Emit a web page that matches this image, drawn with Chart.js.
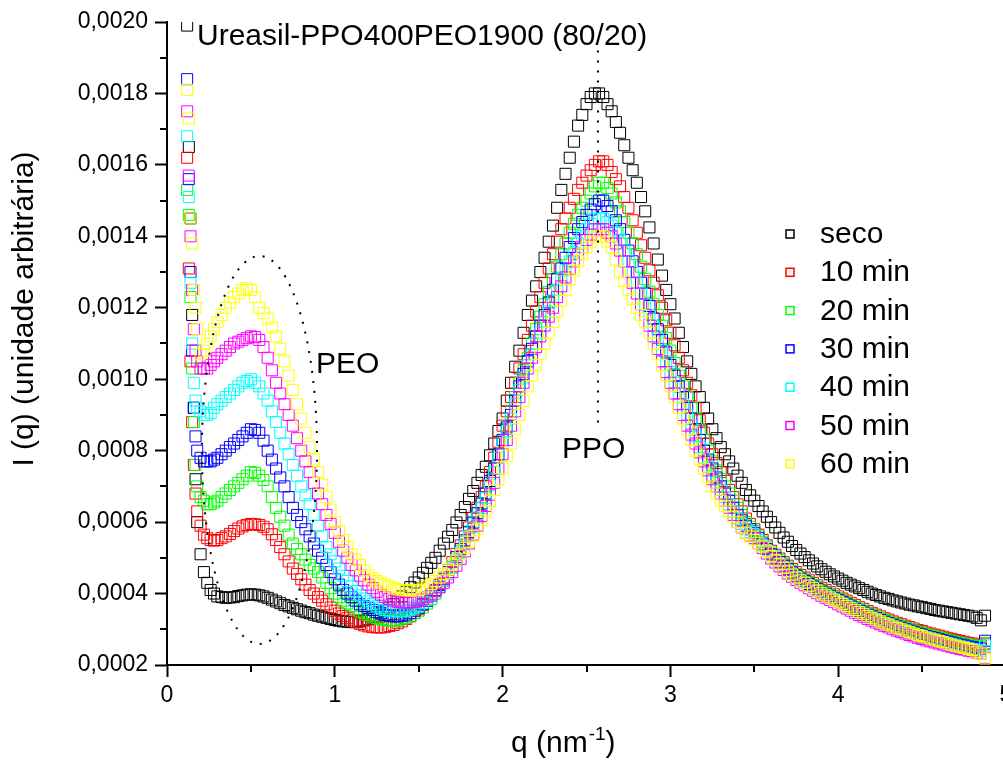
<!DOCTYPE html>
<html><head><meta charset="utf-8">
<script src="https://cdn.jsdelivr.net/npm/chart.js@4"></script>
<style>
html,body{margin:0;padding:0;overflow:hidden;background:#fff;width:1003px;height:778px}
#wrap{position:absolute;left:0;top:0;width:1040px;height:778px}
</style>
</head><body><div id="wrap"><canvas id="c" width="1040" height="778"></canvas></div>
<script>
const q = [0.12,0.13,0.14,0.15,0.16,0.17,0.18,0.20,0.22,0.24,0.26,0.28,0.30,
0.325,0.35,0.375,0.40,0.425,0.45,0.475,0.50,0.525,0.55,
0.575,0.60,0.625,0.65,0.675,0.70,0.725,0.75,0.775,0.80,
0.825,0.85,0.875,0.90,0.925,0.95,0.975,1.00,1.025,1.05,
1.075,1.10,1.125,1.15,1.175,1.20,1.225,1.25,1.275,1.30,
1.325,1.35,1.375,1.40,1.425,1.45,1.475,1.50,1.525,1.55,
1.575,1.60,1.625,1.65,1.675,1.70,1.725,1.75,1.775,1.80,
1.825,1.85,1.875,1.90,1.925,1.95,1.975,2.00,2.025,2.05,
2.075,2.10,2.125,2.15,2.175,2.20,2.225,2.25,2.275,2.30,
2.325,2.35,2.375,2.40,2.425,2.45,2.475,2.50,2.525,2.55,
2.575,2.60,2.625,2.65,2.675,2.70,2.725,2.75,2.775,2.80,
2.825,2.85,2.875,2.90,2.925,2.95,2.975,3.00,3.025,3.05,
3.075,3.10,3.125,3.15,3.175,3.20,3.225,3.25,3.275,3.30,
3.325,3.35,3.375,3.40,3.425,3.45,3.475,3.50,3.525,3.55,
3.575,3.60,3.625,3.65,3.675,3.70,3.725,3.75,3.775,3.80,
3.825,3.85,3.875,3.90,3.925,3.95,3.975,4.00,4.025,4.05,
4.075,4.10,4.125,4.15,4.175,4.20,4.225,4.25,4.275,4.30,
4.325,4.35,4.375,4.40,4.425,4.45,4.475,4.50,4.525,4.55,
4.575,4.60,4.625,4.65,4.675,4.70,4.725,4.75,4.775,4.80,
4.825,4.85,4.875];

const seco = [0.00199,0.00165,0.00145,0.00118,0.00092,0.00072,0.0006,0.00051,0.00046,0.00043,0.00041,0.0004,0.000392,
0.00039,0.000388,0.000389,0.00039,0.000393,0.000395,0.000397,0.000398,0.000397,0.000395,
0.000392,0.000388,0.000383,0.000378,0.000373,0.000368,0.000364,0.00036,0.000356,0.000352,
0.000348,0.000345,0.000341,0.000338,0.000335,0.000332,0.000329,0.000326,0.000324,0.000322,
0.000321,0.00032,0.00032,0.000322,0.000325,0.000328,0.000333,0.000338,0.000345,0.000352,
0.000361,0.00037,0.000381,0.000392,0.000405,0.000418,0.000431,0.000445,0.000458,0.000472,
0.000486,0.0005,0.00052,0.00054,0.000559,0.000578,0.000599,0.00062,0.000642,0.000665,
0.000687,0.00071,0.000732,0.000755,0.000787,0.00082,0.000855,0.00089,0.00094,0.00099,
0.001035,0.00108,0.00113,0.00118,0.00122,0.00126,0.0013,0.00134,0.001385,0.00143,
0.00148,0.00153,0.001575,0.00162,0.001665,0.00171,0.00174,0.00177,0.00179,0.0018,
0.0018,0.00179,0.00177,0.00175,0.00172,0.00169,0.001655,0.00162,0.001585,0.00155,
0.00151,0.00147,0.001425,0.00138,0.001335,0.00129,0.00125,0.00121,0.00117,0.00113,
0.00109,0.00105,0.001015,0.00098,0.00095,0.00092,0.00089,0.00086,0.000835,0.00081,
0.00079,0.00077,0.00075,0.00073,0.00071,0.00069,0.000675,0.00066,0.000645,0.00063,
0.000615,0.0006,0.000585,0.00057,0.000557,0.000545,0.000533,0.000522,0.000512,0.000502,
0.000493,0.000484,0.000476,0.000468,0.000461,0.000454,0.000448,0.000442,0.000436,0.00043,
0.000425,0.00042,0.000415,0.00041,0.000405,0.0004,0.000396,0.000392,0.000388,0.000385,
0.000381,0.000378,0.000375,0.000372,0.000369,0.000367,0.000364,0.000362,0.000359,0.000357,
0.000354,0.000352,0.00035,0.000348,0.000346,0.000344,0.000342,0.00034,0.000338,0.000336,
0.000332,0.000325,0.000338];

const min10 = [0.00162,0.00131,0.00105,0.00088,0.00076,0.00068,0.00063,0.00059,0.000565,0.000555,0.00055,0.000548,0.00055,
0.000555,0.00056,0.000567,0.000575,0.000582,0.000588,0.000592,0.000595,0.000594,0.000592,
0.000587,0.00058,0.000566,0.00055,0.00053,0.00051,0.00049,0.00047,0.000455,0.00044,
0.000425,0.00041,0.0004,0.00039,0.00038,0.00037,0.000361,0.000352,0.000344,0.000337,
0.000331,0.000325,0.00032,0.000315,0.000311,0.000308,0.000306,0.000305,0.000305,0.000306,
0.000309,0.000312,0.000317,0.000322,0.000329,0.000336,0.000346,0.000356,0.000368,0.00038,
0.000395,0.00041,0.000427,0.000445,0.000466,0.000488,0.000511,0.000535,0.00056,0.000585,
0.000612,0.00064,0.00067,0.0007,0.00074,0.00078,0.000825,0.00087,0.00091,0.00095,
0.00099,0.00103,0.00107,0.00111,0.00115,0.00119,0.00123,0.00127,0.00131,0.00135,
0.001385,0.00142,0.00145,0.00148,0.001505,0.00153,0.00155,0.00157,0.001585,0.0016,
0.00161,0.00161,0.0016,0.00158,0.00156,0.00154,0.00151,0.00148,0.001445,0.00141,
0.001375,0.00134,0.001305,0.00127,0.001235,0.0012,0.001165,0.00113,0.001095,0.00106,
0.001025,0.00099,0.000955,0.00092,0.000885,0.00085,0.00082,0.00079,0.000765,0.00074,
0.000715,0.00069,0.00067,0.00065,0.00063,0.00061,0.000595,0.00058,0.000565,0.00055,
0.000535,0.00052,0.000509,0.000498,0.000488,0.000478,0.000469,0.00046,0.000452,0.000445,
0.000437,0.00043,0.000423,0.000416,0.00041,0.000404,0.000398,0.000392,0.000386,0.00038,
0.000374,0.000368,0.000362,0.000357,0.000351,0.000346,0.000341,0.000336,0.000331,0.000327,
0.000322,0.000318,0.000314,0.00031,0.000306,0.000302,0.000298,0.000295,0.000291,0.000288,
0.000285,0.000282,0.000279,0.000276,0.000273,0.00027,0.000267,0.000265,0.000262,0.00026,
0.000257,0.000255,0.00026];

const min20 = [0.00153,0.00146,0.00123,0.00103,0.00088,0.00076,0.0007,0.00067,0.00066,0.00065,0.00065,0.000655,0.00066,
0.00067,0.00068,0.00069,0.0007,0.00071,0.00072,0.00073,0.00074,0.000738,0.00073,
0.000718,0.0007,0.00067,0.00064,0.000615,0.00059,0.000565,0.00054,0.000525,0.00051,
0.000495,0.00048,0.00047,0.00046,0.000445,0.00043,0.000415,0.0004,0.00039,0.00038,
0.000372,0.000365,0.000357,0.00035,0.000345,0.00034,0.000336,0.000332,0.000329,0.000326,
0.000325,0.000324,0.000325,0.000328,0.000332,0.000338,0.000345,0.000352,0.000361,0.000372,
0.000385,0.0004,0.000417,0.000435,0.000455,0.000475,0.000497,0.00052,0.000545,0.00057,
0.000597,0.000625,0.000652,0.00068,0.000715,0.00075,0.00079,0.00083,0.00087,0.00091,
0.00095,0.00099,0.001025,0.00106,0.0011,0.00114,0.001175,0.00121,0.001245,0.00128,
0.001315,0.00135,0.00138,0.00141,0.001435,0.00146,0.00148,0.0015,0.00152,0.00154,
0.00155,0.00155,0.001535,0.00152,0.001495,0.00147,0.00144,0.00141,0.00138,0.00135,
0.001315,0.00128,0.001245,0.00121,0.00118,0.00115,0.001115,0.00108,0.001045,0.00101,
0.00098,0.00095,0.00092,0.00089,0.00086,0.00083,0.0008,0.00077,0.000745,0.00072,
0.0007,0.00068,0.00066,0.00064,0.00062,0.0006,0.000587,0.000575,0.00056,0.000545,
0.00053,0.000515,0.000504,0.000493,0.000483,0.000473,0.000464,0.000455,0.000447,0.00044,
0.000432,0.000425,0.000418,0.000411,0.000405,0.000399,0.000393,0.000387,0.000381,0.000375,
0.000369,0.000363,0.000357,0.000352,0.000346,0.000341,0.000336,0.000331,0.000326,0.000322,
0.000317,0.000313,0.000309,0.000305,0.000301,0.000297,0.000293,0.00029,0.000286,0.000283,
0.00028,0.000277,0.000274,0.000271,0.000268,0.000265,0.000262,0.00026,0.000257,0.000255,
0.000252,0.00025,0.000262];

const min30 = [0.00184,0.00156,0.0013,0.00108,0.00092,0.00084,0.0008,0.00078,0.00077,0.00077,0.00077,0.000775,0.00078,
0.00079,0.0008,0.00081,0.00082,0.00083,0.00084,0.00085,0.00086,0.000858,0.00085,
0.000828,0.0008,0.000775,0.00075,0.000725,0.0007,0.00067,0.00064,0.00062,0.0006,
0.00058,0.00056,0.00054,0.00052,0.0005,0.00048,0.00046,0.00044,0.000425,0.00041,
0.0004,0.00039,0.00038,0.00037,0.000365,0.00036,0.000354,0.000348,0.000344,0.00034,
0.000338,0.000336,0.000336,0.000338,0.000341,0.000345,0.000352,0.00036,0.00037,0.00038,
0.000393,0.000408,0.000424,0.00044,0.00046,0.00048,0.000502,0.000525,0.000549,0.000573,
0.000599,0.000625,0.000652,0.00068,0.000715,0.00075,0.00079,0.00083,0.000865,0.0009,
0.00094,0.00098,0.001015,0.00105,0.001085,0.00112,0.00115,0.00118,0.001215,0.00125,
0.00128,0.00131,0.00134,0.00137,0.001395,0.00142,0.00144,0.00146,0.001475,0.00149,
0.0015,0.0015,0.001485,0.00147,0.001445,0.00142,0.00139,0.00136,0.00133,0.0013,
0.00127,0.00124,0.001205,0.00117,0.00114,0.00111,0.001075,0.00104,0.00101,0.00098,
0.00095,0.00092,0.00089,0.00086,0.00083,0.0008,0.000775,0.00075,0.000725,0.0007,
0.00068,0.00066,0.00064,0.00062,0.000605,0.00059,0.00058,0.00057,0.000555,0.00054,
0.000525,0.00051,0.000499,0.000488,0.000478,0.000468,0.000459,0.00045,0.000442,0.000435,
0.000427,0.00042,0.000413,0.000406,0.0004,0.000394,0.000388,0.000382,0.000376,0.00037,
0.000364,0.000358,0.000352,0.000347,0.000341,0.000336,0.000331,0.000326,0.000321,0.000317,
0.000312,0.000308,0.000304,0.0003,0.000296,0.000292,0.000288,0.000285,0.000281,0.000278,
0.000275,0.000272,0.000269,0.000266,0.000263,0.00026,0.000257,0.000255,0.000252,0.00025,
0.000248,0.000246,0.000268];

const min40 = [0.00168,0.00151,0.00127,0.0011,0.00099,0.00094,0.00092,0.00091,0.0009,0.0009,0.000905,0.00092,0.00093,
0.00094,0.00095,0.00096,0.00097,0.00098,0.00099,0.000995,0.001,0.00099,0.00098,
0.00096,0.00094,0.00091,0.00088,0.00085,0.00082,0.00079,0.00076,0.00073,0.0007,
0.000675,0.00065,0.00062,0.00059,0.00056,0.00053,0.00051,0.00049,0.00047,0.00045,
0.000435,0.00042,0.000407,0.000395,0.000386,0.000378,0.000371,0.000364,0.000359,0.000354,
0.000352,0.00035,0.00035,0.00035,0.000352,0.000355,0.00036,0.000366,0.000374,0.000383,
0.000394,0.000406,0.00042,0.000436,0.000454,0.000472,0.000493,0.000515,0.000538,0.000562,
0.000587,0.000613,0.00064,0.000668,0.000704,0.00074,0.00078,0.00082,0.000855,0.00089,
0.00093,0.00097,0.001005,0.00104,0.00107,0.0011,0.00113,0.00116,0.00119,0.00122,
0.00125,0.00128,0.001305,0.00133,0.001355,0.00138,0.0014,0.00142,0.001435,0.00145,
0.00145,0.00145,0.00144,0.00143,0.00141,0.00139,0.00136,0.00133,0.0013,0.00127,
0.00124,0.00121,0.00118,0.00115,0.001115,0.00108,0.00105,0.00102,0.00099,0.00096,
0.00093,0.0009,0.00087,0.00084,0.00081,0.00078,0.000755,0.00073,0.00071,0.00069,
0.00067,0.00065,0.00063,0.00061,0.000595,0.00058,0.000572,0.000565,0.00055,0.000535,
0.00052,0.000505,0.000494,0.000483,0.000473,0.000463,0.000454,0.000445,0.000437,0.00043,
0.000422,0.000415,0.000408,0.000401,0.000395,0.000389,0.000383,0.000377,0.000371,0.000365,
0.000359,0.000353,0.000347,0.000342,0.000336,0.000331,0.000326,0.000321,0.000316,0.000312,
0.000307,0.000303,0.000299,0.000295,0.000291,0.000287,0.000283,0.00028,0.000276,0.000273,
0.00027,0.000267,0.000264,0.000261,0.000258,0.000255,0.000252,0.00025,0.000247,0.000245,
0.000242,0.00024,0.000255];

const min50 = [0.00175,0.00157,0.0014,0.00125,0.00114,0.00108,0.00105,0.00103,0.00103,0.00103,0.00104,0.00105,0.00106,
0.00107,0.00108,0.00109,0.0011,0.001105,0.00111,0.001115,0.00112,0.001118,0.00111,
0.00109,0.00106,0.001025,0.00099,0.00096,0.00093,0.0009,0.00087,0.000835,0.0008,
0.00077,0.00074,0.00071,0.00068,0.00065,0.00062,0.000595,0.00057,0.000545,0.00052,
0.0005,0.00048,0.000465,0.00045,0.000437,0.000425,0.000415,0.000405,0.000397,0.00039,
0.000385,0.00038,0.000377,0.000375,0.000375,0.000375,0.000377,0.00038,0.000385,0.00039,
0.000398,0.000407,0.000418,0.00043,0.000445,0.00046,0.000478,0.000497,0.000518,0.00054,
0.000565,0.00059,0.000617,0.000645,0.000677,0.00071,0.00075,0.00079,0.00083,0.00087,
0.00091,0.00095,0.00099,0.00103,0.00106,0.00109,0.00112,0.00115,0.001175,0.0012,
0.00123,0.00126,0.001285,0.00131,0.00133,0.00135,0.00137,0.00139,0.001405,0.00142,
0.00142,0.00142,0.00141,0.0014,0.00138,0.00136,0.00133,0.0013,0.00127,0.00124,
0.00121,0.00118,0.00115,0.00112,0.001085,0.00105,0.00102,0.00099,0.00096,0.00093,
0.0009,0.00087,0.000845,0.00082,0.000795,0.00077,0.000745,0.00072,0.0007,0.00068,
0.00066,0.00064,0.00062,0.0006,0.000585,0.00057,0.000562,0.000555,0.000541,0.000527,
0.000512,0.000498,0.000487,0.000476,0.000466,0.000456,0.000447,0.000438,0.00043,0.000423,
0.000415,0.000408,0.000401,0.000394,0.000388,0.000382,0.000376,0.00037,0.000364,0.000358,
0.000352,0.000346,0.00034,0.000335,0.000329,0.000324,0.000319,0.000314,0.000309,0.000305,
0.0003,0.000296,0.000292,0.000288,0.000284,0.00028,0.000276,0.000273,0.000269,0.000266,
0.000263,0.00026,0.000257,0.000254,0.000251,0.000248,0.000245,0.000243,0.00024,0.000238,
0.000235,0.000232,0.00022];

const min60 = [0.00181,0.00173,0.00145,0.00138,0.00125,0.0012,0.00114,0.00107,0.00108,0.0011,0.00112,0.00114,0.00116,
0.00118,0.0012,0.001215,0.00123,0.00124,0.00125,0.001255,0.00125,0.00123,0.0012,
0.001185,0.00117,0.001145,0.00112,0.001085,0.00105,0.00101,0.00097,0.00093,0.00089,
0.00085,0.00081,0.000775,0.00074,0.000705,0.00067,0.000635,0.0006,0.000575,0.00055,
0.00053,0.00051,0.000495,0.00048,0.000465,0.00045,0.000442,0.000435,0.00043,0.000425,
0.00042,0.000415,0.000412,0.00041,0.000409,0.000408,0.000409,0.00041,0.000414,0.00042,
0.000427,0.000435,0.000445,0.000455,0.000467,0.00048,0.000495,0.00051,0.000527,0.000545,
0.000562,0.00058,0.000605,0.00063,0.00066,0.00069,0.00072,0.00075,0.000785,0.00082,
0.00086,0.0009,0.00094,0.00098,0.00101,0.00104,0.00107,0.0011,0.00113,0.00116,
0.00119,0.00122,0.00125,0.00128,0.001305,0.00133,0.00135,0.00137,0.001385,0.0014,
0.0014,0.0014,0.001385,0.00137,0.001335,0.0013,0.001275,0.00125,0.001225,0.0012,
0.00118,0.00116,0.00113,0.0011,0.00107,0.00104,0.00101,0.00098,0.00095,0.00092,
0.00089,0.00086,0.00083,0.0008,0.000775,0.00075,0.000725,0.0007,0.00068,0.00066,
0.000645,0.00063,0.000615,0.0006,0.000585,0.00057,0.00056,0.00055,0.000541,0.000532,
0.000518,0.000505,0.000493,0.000482,0.000472,0.000462,0.000453,0.000445,0.000437,0.00043,
0.000422,0.000415,0.000408,0.000401,0.000395,0.000389,0.000383,0.000377,0.000371,0.000365,
0.000359,0.000354,0.000348,0.000343,0.000337,0.000332,0.000327,0.000322,0.000317,0.000313,
0.000308,0.000304,0.0003,0.000296,0.000292,0.000288,0.000284,0.000281,0.000277,0.000274,
0.000271,0.000267,0.000264,0.00026,0.000257,0.000254,0.000251,0.000248,0.000245,0.000242,
0.000237,0.000232,0.000218];

const seriesNames = ['seco','10 min','20 min','30 min','40 min','50 min','60 min'];
const seriesValues = [seco, min10, min20, min30, min40, min50, min60];
const seriesColors = ['#000000','#FF0000','#00FF00','#0000FF','#00FFFF','#FF00FF','#FFFF00'];

const xTicks = [0,1,2,3,4,5];
const xMinorTicks = [0.5,1.5,2.5,3.5,4.5];
const yTicks = [0.0002,0.0004,0.0006,0.0008,0.0010,0.0012,0.0014,0.0016,0.0018,0.0020];
const yMinorTicks = [0.0003,0.0005,0.0007,0.0009,0.0011,0.0013,0.0015,0.0017,0.0019];

const chartTitle = 'Ureasil-PPO400PEO1900 (80/20)';
const yTitle = 'I (q) (unidade arbitrária)';
const peoLabel = {text:'PEO', q:0.888, v:0.001018};
const ppoLabel = {text:'PPO', q:2.354, v:0.00078};
const ppoLine = {q:2.57, top:0.00192, bottom:0.000864};
const peoEllipse = {q:0.551, v:0.000802, dq:0.343, dv:0.000543};

const FONT = '"Liberation Sans", Arial, Helvetica, sans-serif';

const datasets = seriesValues.map((vals, i) => ({
  label: seriesNames[i],
  data: q.map((x, k) => ({x: x, y: vals[k]})),
  showLine: false,
  pointStyle: 'rect',
  pointRadius: 7.8,
  pointBorderWidth: 1,
  pointBorderColor: seriesColors[i],
  pointBackgroundColor: 'rgba(0,0,0,0)',
  borderColor: seriesColors[i],
  backgroundColor: 'rgba(0,0,0,0)',
  order: seriesValues.length - 1 - i
}));

const decor = {
  id: 'decor',
  afterDraw(chart) {
    const {ctx, chartArea, scales: {x, y}} = chart;
    ctx.save();
    ctx.strokeStyle = '#000';
    ctx.lineWidth = 2;
    yMinorTicks.forEach(v => {
      const py = Math.round(y.getPixelForValue(v));
      ctx.beginPath(); ctx.moveTo(chartArea.left, py); ctx.lineTo(chartArea.left - 7, py); ctx.stroke();
    });
    xMinorTicks.forEach(v => {
      const px = Math.round(x.getPixelForValue(v));
      ctx.beginPath(); ctx.moveTo(px, chartArea.bottom); ctx.lineTo(px, chartArea.bottom + 7); ctx.stroke();
    });
    ctx.setLineDash([2, 8]);
    ctx.lineWidth = 2;
    const lx = Math.round(x.getPixelForValue(ppoLine.q));
    ctx.beginPath();
    ctx.moveTo(lx, y.getPixelForValue(ppoLine.top));
    ctx.lineTo(lx, y.getPixelForValue(ppoLine.bottom));
    ctx.stroke();
    const cx = x.getPixelForValue(peoEllipse.q), cy = y.getPixelForValue(peoEllipse.v);
    const rx = x.getPixelForValue(peoEllipse.q + peoEllipse.dq) - cx;
    const ry = cy - y.getPixelForValue(peoEllipse.v + peoEllipse.dv);
    ctx.beginPath(); ctx.ellipse(cx, cy, rx, ry, 0, 0, Math.PI * 2); ctx.stroke();
    ctx.setLineDash([]);

    ctx.fillStyle = '#000';
    ctx.textBaseline = 'alphabetic';
    ctx.textAlign = 'left';
    ctx.font = '30px ' + FONT;
    ctx.fillText(chartTitle, 197, 45);
    ctx.fillText(peoLabel.text, x.getPixelForValue(peoLabel.q), y.getPixelForValue(peoLabel.v));
    ctx.fillText(ppoLabel.text, x.getPixelForValue(ppoLabel.q), y.getPixelForValue(ppoLabel.v));

    seriesNames.forEach((name, i) => {
      const my = 234 + i * 38.3;
      ctx.strokeStyle = seriesColors[i];
      ctx.lineWidth = 1.5;
      ctx.strokeRect(786, my - 4, 8, 8);
      ctx.fillStyle = '#000';
      ctx.font = '30px ' + FONT;
      ctx.fillText(name, 820, my + 9);
    });

    ctx.save();
    ctx.translate(33, 309);
    ctx.rotate(-Math.PI / 2);
    ctx.textAlign = 'center';
    ctx.font = '30px ' + FONT;
    ctx.fillText(yTitle, 0, 0);
    ctx.restore();

    let tx = 511; const ty = 752;
    ctx.textAlign = 'left';
    ctx.font = '30px ' + FONT;
    ctx.fillText('q (nm', tx, ty);
    tx += ctx.measureText('q (nm').width;
    ctx.font = '19px ' + FONT;
    ctx.fillText('-1', tx + 1, ty - 12);
    tx += ctx.measureText('-1').width + 1;
    ctx.font = '30px ' + FONT;
    ctx.fillText(')', tx, ty);
    ctx.restore();
  }
};

new Chart(document.getElementById('c'), {
  type: 'scatter',
  data: {datasets},
  options: {
    responsive: false,
    animation: false,
    devicePixelRatio: 1,
    layout: {padding: {left: 0, right: 34, top: 22, bottom: 0}},
    plugins: {legend: {display: false}, tooltip: {enabled: false}},
    scales: {
      x: {
        type: 'linear', min: 0, max: 5,
        afterBuildTicks: s => { s.ticks = xTicks.map(v => ({value: v})); },
        afterFit: s => { s.height = 113; },
        grid: {display: true, drawOnChartArea: false, drawTicks: true, tickLength: 12, tickWidth: 2, tickColor: '#000'},
        border: {display: true, color: '#000', width: 2},
        ticks: {color: '#000', font: {family: FONT, size: 23}, padding: 5, maxRotation: 0, autoSkip: false,
          callback: v => String(v)}
      },
      y: {
        type: 'linear', min: 0.0002, max: 0.0020,
        afterBuildTicks: s => { s.ticks = yTicks.map(v => ({value: v})); },
        afterFit: s => { s.width = 167; },
        grid: {display: true, drawOnChartArea: false, drawTicks: true, tickLength: 12, tickWidth: 2, tickColor: '#000'},
        border: {display: true, color: '#000', width: 2},
        ticks: {color: '#000', font: {family: FONT, size: 23}, padding: 7, autoSkip: false,
          callback: v => Number(v).toFixed(4).replace('.', ',')}
      }
    }
  },
  plugins: [decor]
});
</script>
</body></html>
